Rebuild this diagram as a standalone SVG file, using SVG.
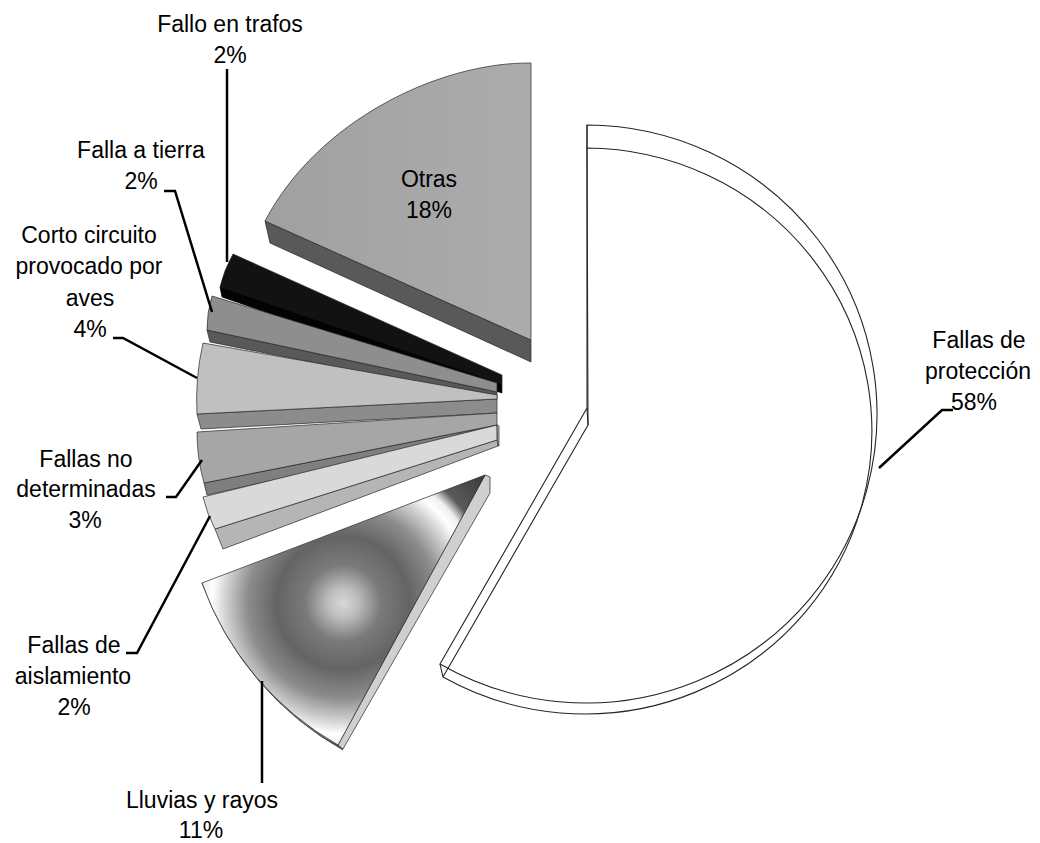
<svg xmlns="http://www.w3.org/2000/svg" width="1040" height="843" viewBox="0 0 1040 843">
<style>
.lbl{font-family:"Liberation Sans",Arial,sans-serif;font-size:23px;fill:#000;text-anchor:middle}
.edge{stroke:#262626;stroke-width:0.7;stroke-linejoin:round}
.wire{fill:none;stroke:#262626;stroke-width:1.1;stroke-linejoin:round}
.lead{fill:none;stroke:#000;stroke-width:2.5;stroke-linejoin:miter}
</style>
<defs>
<linearGradient id="gOtras" x1="265" y1="0" x2="531" y2="0" gradientUnits="userSpaceOnUse">
<stop offset="0" stop-color="#a0a0a0"/><stop offset="1" stop-color="#acacac"/>
</linearGradient>
<radialGradient id="gLluvias" cx="343" cy="603" r="190" gradientUnits="userSpaceOnUse">
<stop offset="0" stop-color="#d8d8d8"/>
<stop offset="0.08" stop-color="#bdbdbd"/>
<stop offset="0.2" stop-color="#7a7a7a"/>
<stop offset="0.35" stop-color="#646464"/>
<stop offset="0.5" stop-color="#8c8c8c"/>
<stop offset="0.62" stop-color="#d2d2d2"/>
<stop offset="0.69" stop-color="#ffffff"/>
<stop offset="0.74" stop-color="#eeeeee"/>
<stop offset="0.8" stop-color="#5a5a5a"/>
<stop offset="1" stop-color="#3a3a3a"/>
</radialGradient>
<linearGradient id="gBand" x1="205" y1="590" x2="340" y2="748" gradientUnits="userSpaceOnUse">
<stop offset="0" stop-color="#4a4a4a"/><stop offset="0.5" stop-color="#7a7a7a"/><stop offset="1" stop-color="#5a5a5a"/>
</linearGradient>
</defs>

<g id="slice-proteccion">
<path class="wire" d="M587,148 L588,425 L443,677 A287 283 0 1 0 587,148 Z"/>
<path class="wire" d="M587,125 L587,408 L440,664 A291 289 0 1 0 587,125 Z"/>
<path class="wire" d="M587,125 L587,148 M587,408 L588,425 M440,664 L443,677"/>
<text class="lbl" x="979" y="348">Fallas de</text>
<text class="lbl" x="978" y="379">protección</text>
<text class="lbl" x="974" y="410">58%</text>
</g>

<g id="slice-otras">
<path class="edge" fill="#595959" d="M265,221 L270,243 L531,362 L531,340 Z"/>
<path class="edge" fill="url(#gOtras)" d="M531,63 C440,62 318,120 265,221 L531,340 Z"/>
<text class="lbl" x="429" y="187">Otras</text>
<text class="lbl" x="429" y="218">18%</text>
</g>

<g id="slice-trafos">
<path class="edge" fill="#121212" d="M233,254 L502,375 L502,393 L222,297 L220,287 Q224,270 233,254 Z"/>
<path fill="#030303" d="M220,287 L222,297 L502,393 L501,384 Z"/>
<text class="lbl" x="230" y="32">Fallo en trafos</text>
<text class="lbl" x="230" y="63">2%</text>
</g>

<g id="slice-tierra">
<path class="edge" fill="#595959" d="M207,330 L210,342 L497,399 L497,392 Z"/>
<path class="edge" fill="#8e8e8e" d="M212,296 L497,383 L497,392 L207,330 Q207,312 212,296 Z"/>
<text class="lbl" x="141" y="158">Falla a tierra</text>
<text class="lbl" x="141" y="189">2%</text>
</g>

<g id="slice-aves">
<path class="edge" fill="#8c8c8c" d="M197,414 L201,429 L497,413 L497,399 Z"/>
<path class="edge" fill="#c0c0c0" d="M203,343 L497,395 L497,399 L197,414 Q195,378 203,343 Z"/>
<text class="lbl" x="89" y="243">Corto circuito</text>
<text class="lbl" x="89" y="274">provocado por</text>
<text class="lbl" x="90" y="306">aves</text>
<text class="lbl" x="90" y="337">4%</text>
</g>

<g id="slice-nodeterminadas">
<path class="edge" fill="#7f7f7f" d="M204,483 L207,495 L497,430 L497,425 Z"/>
<path class="edge" fill="#a6a6a6" d="M197,432 L497,413 L497,425 L204,483 Q197,458 197,432 Z"/>
<text class="lbl" x="86" y="467">Fallas no</text>
<text class="lbl" x="86" y="497">determinadas</text>
<text class="lbl" x="85" y="528">3%</text>
</g>

<g id="slice-aislamiento">
<path class="edge" fill="#b5b5b5" d="M215,529 L223,549 L498,446 L497,440 Z"/>
<path class="edge" fill="#d9d9d9" d="M203,497 L497,425 L497,440 L215,529 Q207,514 203,497 Z"/>
<path class="edge" fill="#c8c8c8" d="M497,425 L499,426 L499,446 L498,446 Z"/>
<text class="lbl" x="74" y="653">Fallas de</text>
<text class="lbl" x="73" y="684">aislamiento</text>
<text class="lbl" x="74" y="715">2%</text>
</g>

<g id="slice-lluvias">
<path class="edge" fill="url(#gBand)" d="M202,583 A305 305 0 0 0 338,745 L343,750 A310 310 0 0 1 205,590 Z"/>
<path class="edge" fill="#cfcfcf" d="M485,475 L490,477 L490,493 L343,749 L338,745 Z"/>
<path class="edge" fill="url(#gLluvias)" d="M485,475 L338,745 A305 305 0 0 1 202,583 Z"/>
<text class="lbl" x="202" y="808">Lluvias y rayos</text>
<text class="lbl" x="201" y="838">11%</text>
</g>

<g id="connectors">
<path class="lead" d="M227,69 L227,262"/>
<path class="lead" d="M164,191 L175,191 L212,312"/>
<path class="lead" d="M113,338 L123,338 L197,378"/>
<path class="lead" d="M166,497 L176,497 L202,460"/>
<path class="lead" d="M126,653 L137,653 L210,516"/>
<path class="lead" d="M262,681 L262,783"/>
<path class="lead" d="M953,410 L942,410 L879,468"/>
</g>
</svg>
